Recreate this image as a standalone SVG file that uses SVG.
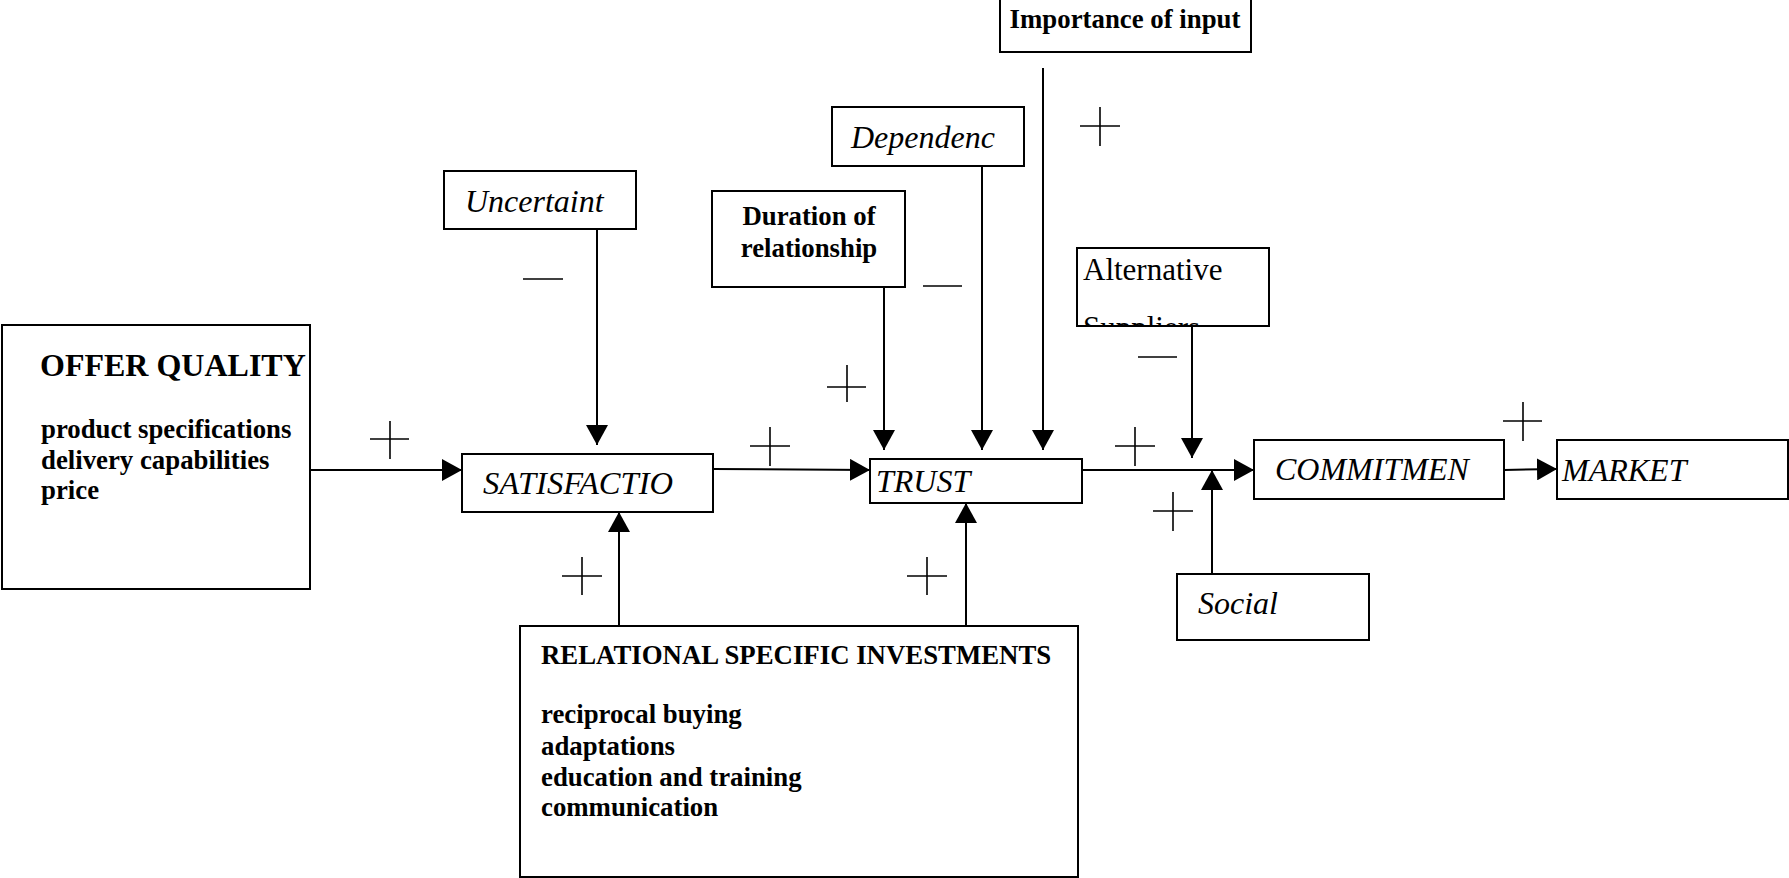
<svg xmlns="http://www.w3.org/2000/svg" width="1789" height="878" viewBox="0 0 1789 878">
<style>
.box{fill:#fff;stroke:#000;stroke-width:2}
.t{font-family:"Liberation Serif","Times New Roman",serif;fill:#000}
.b{font-weight:bold;font-size:26.8px}
.i{font-style:italic;font-size:32px}
.r{font-size:31px}
.conn line{stroke:#000;stroke-width:2;fill:none}
.sign line{stroke:#000;stroke-width:1.6}
</style>
<defs>
<marker id="ah" markerUnits="userSpaceOnUse" markerWidth="20" markerHeight="22" refX="20" refY="11" orient="auto">
<path d="M0,0 L20,11 L0,22 z" fill="#000"/>
</marker>
<clipPath id="altclip"><rect x="1078" y="249" width="190" height="76"/></clipPath>
</defs>
<rect width="1789" height="878" fill="#fff"/>

<g id="offer-quality">
<rect class="box" x="2" y="325" width="308" height="264"/>
<text class="t" x="40" y="376" font-weight="bold" font-size="32">OFFER QUALITY</text>
<text class="t b" x="41" y="438">product specifications</text>
<text class="t b" x="41" y="469">delivery capabilities</text>
<text class="t b" x="41" y="499">price</text>
</g>

<g id="uncertainty">
<rect class="box" x="444" y="171" width="192" height="58"/>
<text class="t i" x="465" y="212">Uncertaint</text>
</g>

<g id="satisfaction">
<rect class="box" x="462" y="454" width="251" height="58"/>
<text class="t i" x="483" y="494" textLength="190" lengthAdjust="spacingAndGlyphs">SATISFACTIO</text>
</g>

<g id="duration">
<rect class="box" x="712" y="191" width="193" height="96"/>
<text class="t b" x="809" y="225" text-anchor="middle" font-size="26">Duration of</text>
<text class="t b" x="809" y="257" text-anchor="middle" font-size="26">relationship</text>
</g>

<g id="dependence">
<rect class="box" x="832" y="107" width="192" height="59"/>
<text class="t i" x="851" y="148">Dependenc</text>
</g>

<g id="importance">
<rect class="box" x="1000" y="-1" width="251" height="53"/>
<text class="t b" x="1125" y="28" text-anchor="middle" font-size="26.3">Importance of input</text>
</g>

<g id="alternative">
<rect class="box" x="1077" y="248" width="192" height="78"/>
<g clip-path="url(#altclip)">
<text class="t r" x="1083" y="280">Alternative</text>
<text class="t r" x="1083" y="338">Suppliers</text>
</g>
</g>

<g id="trust">
<rect class="box" x="870" y="459" width="212" height="44"/>
<text class="t i" x="876" y="492">TRUST</text>
</g>

<g id="commitment">
<rect class="box" x="1254" y="440" width="250" height="59"/>
<text class="t i" x="1275" y="480">COMMITMEN</text>
</g>

<g id="market">
<rect class="box" x="1557" y="440" width="231" height="59"/>
<text class="t i" x="1562" y="481">MARKET</text>
</g>

<g id="social">
<rect class="box" x="1177" y="574" width="192" height="66"/>
<text class="t i" x="1198" y="614">Social</text>
</g>

<g id="relational-specific-investments">
<rect class="box" x="520" y="626" width="558" height="251"/>
<text class="t b" x="541" y="664">RELATIONAL SPECIFIC INVESTMENTS</text>
<text class="t b" x="541" y="723">reciprocal buying</text>
<text class="t b" x="541" y="755">adaptations</text>
<text class="t b" x="541" y="786">education and training</text>
<text class="t b" x="541" y="816">communication</text>
</g>

<g id="connectors" class="conn">
<line x1="310" y1="470" x2="462" y2="470" marker-end="url(#ah)"/>
<line x1="597" y1="229" x2="597" y2="445" marker-end="url(#ah)"/>
<line x1="713" y1="469" x2="870" y2="470" marker-end="url(#ah)"/>
<line x1="884" y1="287" x2="884" y2="450" marker-end="url(#ah)"/>
<line x1="982" y1="166" x2="982" y2="450" marker-end="url(#ah)"/>
<line x1="1043" y1="68" x2="1043" y2="450" marker-end="url(#ah)"/>
<line x1="619" y1="626" x2="619" y2="512" marker-end="url(#ah)"/>
<line x1="966" y1="626" x2="966" y2="503" marker-end="url(#ah)"/>
<line x1="1082" y1="470" x2="1254" y2="470" marker-end="url(#ah)"/>
<line x1="1192" y1="326" x2="1192" y2="458" marker-end="url(#ah)"/>
<line x1="1212" y1="574" x2="1212" y2="470" marker-end="url(#ah)"/>
<line x1="1504" y1="470" x2="1557" y2="469" marker-end="url(#ah)"/>
</g>

<g id="signs" class="sign">
<line x1="523" y1="279" x2="563" y2="279"/>
<line x1="923" y1="286" x2="962" y2="286"/>
<line x1="1138" y1="357" x2="1177" y2="357"/>
<line x1="370" y1="439" x2="409" y2="439"/><line x1="390" y1="421" x2="390" y2="459"/>
<line x1="750" y1="446" x2="790" y2="446"/><line x1="770" y1="427" x2="770" y2="466"/>
<line x1="827" y1="387" x2="866" y2="387"/><line x1="847" y1="365" x2="847" y2="402"/>
<line x1="1080" y1="126" x2="1120" y2="126"/><line x1="1100" y1="107" x2="1100" y2="146"/>
<line x1="1115" y1="446" x2="1155" y2="446"/><line x1="1135" y1="427" x2="1135" y2="466"/>
<line x1="1153" y1="511" x2="1193" y2="511"/><line x1="1173" y1="492" x2="1173" y2="531"/>
<line x1="1503" y1="421" x2="1542" y2="421"/><line x1="1523" y1="402" x2="1523" y2="441"/>
<line x1="562" y1="576" x2="602" y2="576"/><line x1="582" y1="557" x2="582" y2="595"/>
<line x1="907" y1="576" x2="947" y2="576"/><line x1="927" y1="557" x2="927" y2="595"/>
</g>
</svg>
